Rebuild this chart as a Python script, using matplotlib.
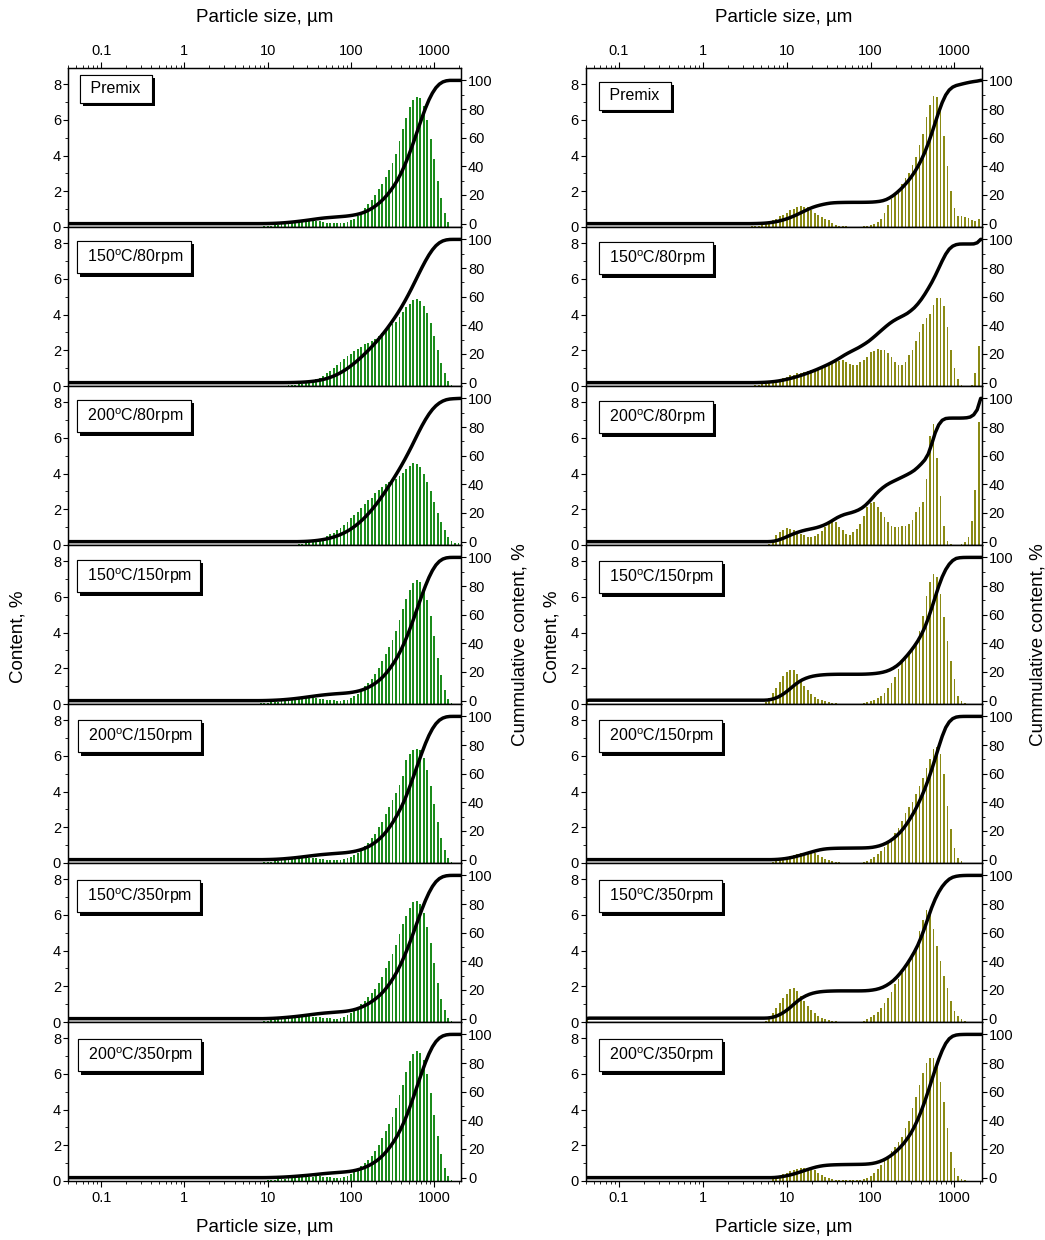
import numpy as np
import matplotlib.pyplot as plt
from matplotlib import patheffects
from matplotlib.ticker import FixedLocator, FixedFormatter, LogLocator, NullFormatter, MultipleLocator

plt.rcParams['font.family'] = ['Liberation Sans', 'DejaVu Sans']
plt.rcParams['mathtext.fontset'] = 'custom'
plt.rcParams['mathtext.rm'] = 'Liberation Sans'

# size classes: channel k has centre 100 um * 10**(k/24), k = -81 .. 31
k_first, k_last = -81, 31

sample_labels = ['Premix',
                 '150$^{\\mathregular{o}}$C/80rpm',
                 '200$^{\\mathregular{o}}$C/80rpm',
                 '150$^{\\mathregular{o}}$C/150rpm',
                 '200$^{\\mathregular{o}}$C/150rpm',
                 '150$^{\\mathregular{o}}$C/350rpm',
                 '200$^{\\mathregular{o}}$C/350rpm']

# left column (green), content % per channel, first channel index in left_start
left_premix = [0.02, 0.03, 0.05, 0.08, 0.1, 0.13, 0.17, 0.2, 0.22, 0.25, 0.28, 0.3, 0.32, 0.33, 0.35, 0.35,
               0.35, 0.32, 0.28, 0.22, 0.2, 0.2, 0.2, 0.2, 0.22, 0.3, 0.37, 0.47, 0.6, 0.8, 1.04, 1.27, 1.5,
               1.8, 2.1, 2.4, 2.8, 3.2, 3.6, 4.1, 4.8, 5.5, 6.1, 6.7, 7.1, 7.3, 7.2, 6.8, 6.0, 4.9, 3.8, 2.6,
               1.6, 0.8, 0.3]
left_150_80 = [0.02, 0.03, 0.05, 0.07, 0.09, 0.13, 0.17, 0.22, 0.28, 0.37, 0.47, 0.58, 0.7, 0.84, 1.0, 1.15,
               1.32, 1.5, 1.66, 1.8, 1.95, 2.07, 2.2, 2.33, 2.4, 2.5, 2.65, 2.8, 2.96, 3.1, 3.3, 3.45, 3.6,
               3.85, 4.15, 4.4, 4.6, 4.8, 4.85, 4.75, 4.5, 4.1, 3.5, 2.8, 2.0, 1.3, 0.7, 0.3, 0.05]
left_200_80 = [0.05, 0.07, 0.11, 0.15, 0.2, 0.26, 0.33, 0.4, 0.48, 0.6, 0.69, 0.82, 0.97, 1.1, 1.28, 1.5,
               1.68, 1.86, 2.05, 2.3, 2.5, 2.65, 2.9, 3.07, 3.25, 3.4, 3.5, 3.6, 3.7, 3.85, 4.05, 4.25, 4.4,
               4.6, 4.55, 4.35, 4.0, 3.55, 3.0, 2.4, 1.8, 1.3, 0.85, 0.45, 0.2, 0.12, 0.1]
left_150_150 = [0.03, 0.05, 0.07, 0.09, 0.11, 0.13, 0.17, 0.2, 0.22, 0.25, 0.28, 0.3, 0.32, 0.33, 0.33, 0.33,
                0.32, 0.3, 0.27, 0.25, 0.22, 0.2, 0.17, 0.17, 0.2, 0.25, 0.35, 0.45, 0.58, 0.77, 1.0, 1.2,
                1.4, 1.7, 2.0, 2.4, 2.8, 3.2, 3.6, 4.1, 4.7, 5.3, 5.9, 6.4, 6.8, 6.95, 6.85, 6.5, 5.8, 4.9,
                3.8, 2.6, 1.6, 0.8, 0.3, 0.05]
left_200_150 = [0.04, 0.05, 0.07, 0.09, 0.13, 0.15, 0.19, 0.2, 0.22, 0.24, 0.26, 0.28, 0.28, 0.28, 0.28, 0.26,
                0.24, 0.2, 0.19, 0.19, 0.17, 0.17, 0.17, 0.2, 0.28, 0.35, 0.45, 0.58, 0.73, 0.95, 1.14, 1.42,
                1.65, 2.0, 2.3, 2.72, 3.15, 3.55, 3.9, 4.35, 4.85, 5.75, 6.1, 6.3, 6.4, 6.3, 5.9, 5.2, 4.3,
                3.3, 2.3, 1.4, 0.75, 0.3, 0.04]
left_150_350 = [0.05, 0.07, 0.09, 0.13, 0.15, 0.19, 0.2, 0.22, 0.24, 0.26, 0.28, 0.3, 0.32, 0.32, 0.3, 0.3,
                0.26, 0.24, 0.2, 0.2, 0.19, 0.19, 0.2, 0.26, 0.37, 0.48, 0.65, 0.84, 1.02, 1.2, 1.42, 1.62,
                1.86, 2.18, 2.53, 3.0, 3.4, 3.8, 4.3, 4.9, 5.5, 5.95, 6.4, 6.7, 6.75, 6.6, 6.1, 5.3, 4.4,
                3.3, 2.2, 1.3, 0.65, 0.25, 0.04]
left_200_350 = [0.02, 0.04, 0.06, 0.07, 0.09, 0.11, 0.13, 0.15, 0.17, 0.19, 0.2, 0.2, 0.22, 0.24, 0.24, 0.26,
                0.26, 0.24, 0.22, 0.2, 0.19, 0.19, 0.19, 0.22, 0.28, 0.37, 0.52, 0.65, 0.84, 1.0, 1.2, 1.42,
                1.68, 2.0, 2.4, 2.8, 3.2, 3.6, 4.1, 4.8, 5.4, 6.1, 6.7, 7.1, 7.25, 7.15, 6.75, 6.0, 4.95,
                3.7, 2.5, 1.5, 0.75, 0.3, 0.04]
left_start = [-26, -19, -15, -26, -25, -25, -25]

# right column (olive)
right_premix = [0.04, 0.05, 0.07, 0.13, 0.19, 0.28, 0.37, 0.47, 0.6, 0.69, 0.8, 0.94, 1.03, 1.12, 1.16, 1.14,
                1.12, 0.97, 0.79, 0.66, 0.56, 0.47, 0.37, 0.22, 0.13, 0.07, 0.05, 0.03, 0.02, 0.01, 0.0,
                0.01, 0.03, 0.05, 0.09, 0.19, 0.28, 0.47, 0.8, 1.22, 1.54, 1.91, 2.15, 2.43, 2.72, 3.03,
                3.46, 3.93, 4.6, 5.2, 6.18, 6.83, 7.35, 7.26, 6.5, 5.1, 3.4, 2.0, 1.08, 0.62, 0.6, 0.56,
                0.5, 0.41, 0.34, 0.47]
right_150_80 = [0.04, 0.06, 0.09, 0.13, 0.19, 0.24, 0.32, 0.4, 0.47, 0.53, 0.6, 0.64, 0.7, 0.75, 0.79, 0.85,
                0.89, 0.94, 1.0, 1.04, 1.07, 1.15, 1.22, 1.32, 1.41, 1.45, 1.32, 1.22, 1.19, 1.19, 1.37,
                1.45, 1.6, 1.88, 1.98, 2.07, 2.03, 2.0, 1.85, 1.6, 1.36, 1.19, 1.19, 1.32, 1.73, 2.0, 2.54,
                3.0, 3.45, 3.82, 4.05, 4.52, 4.9, 4.95, 4.46, 3.33, 2.0, 1.0, 0.38, 0.05, 0.0, 0.0, 0.06,
                0.75, 2.25]
right_200_80 = [0.08, 0.26, 0.56, 0.73, 0.85, 0.94, 0.92, 0.85, 0.73, 0.64, 0.55, 0.45, 0.45, 0.5, 0.64,
                0.79, 0.98, 1.17, 1.32, 1.26, 1.02, 0.83, 0.6, 0.56, 0.7, 0.88, 1.2, 1.64, 2.1, 2.33, 2.4,
                2.1, 1.83, 1.54, 1.26, 1.07, 1.02, 1.02, 1.04, 1.07, 1.17, 1.39, 1.83, 2.1, 2.39, 3.67,
                6.1, 6.8, 4.85, 2.75, 1.07, 0.23, 0.04, 0.0, 0.0, 0.05, 0.15, 0.45, 1.35, 3.1, 6.9]
right_150_150 = [0.11, 0.36, 0.64, 0.92, 1.24, 1.57, 1.8, 1.91, 1.91, 1.67, 1.35, 1.01, 0.79, 0.58, 0.41,
                 0.3, 0.21, 0.15, 0.09, 0.06, 0.04, 0.02, 0.0, 0.0, 0.0, 0.0, 0.0, 0.02, 0.06, 0.11, 0.15,
                 0.22, 0.32, 0.45, 0.64, 0.88, 1.2, 1.52, 1.95, 2.42, 2.6, 2.85, 3.11, 3.45, 4.1, 4.9, 6.03,
                 6.82, 7.28, 7.1, 6.16, 4.85, 3.54, 2.42, 1.39, 0.45, 0.17, 0.04, 0.02]
right_200_150 = [0.06, 0.11, 0.17, 0.24, 0.32, 0.39, 0.47, 0.52, 0.56, 0.58, 0.58, 0.58, 0.54, 0.47, 0.36,
                 0.24, 0.15, 0.09, 0.06, 0.04, 0.02, 0.02, 0.02, 0.02, 0.02, 0.02, 0.06, 0.11, 0.21, 0.36,
                 0.49, 0.67, 0.9, 1.14, 1.42, 1.7, 1.98, 2.36, 2.79, 3.11, 3.43, 3.86, 4.33, 4.74, 5.3,
                 5.82, 6.39, 6.48, 6.1, 4.98, 3.2, 1.89, 0.86, 0.3, 0.09, 0.02]
right_150_350 = [0.07, 0.26, 0.51, 0.79, 1.07, 1.35, 1.57, 1.82, 1.89, 1.72, 1.44, 1.16, 0.92, 0.67, 0.49,
                 0.34, 0.22, 0.15, 0.09, 0.06, 0.04, 0.02, 0.0, 0.0, 0.0, 0.0, 0.0, 0.02, 0.07, 0.15, 0.26,
                 0.37, 0.56, 0.79, 1.07, 1.35, 1.67, 2.1, 2.43, 2.75, 3.03, 3.37, 3.69, 4.16, 5.09, 5.69,
                 6.25, 6.03, 5.18, 4.25, 3.41, 2.57, 1.91, 1.16, 0.6, 0.32, 0.15, 0.06, 0.02]
right_200_350 = [0.09, 0.2, 0.3, 0.39, 0.47, 0.54, 0.64, 0.69, 0.73, 0.73, 0.71, 0.66, 0.6, 0.47, 0.36, 0.24,
                 0.17, 0.11, 0.07, 0.06, 0.04, 0.03, 0.03, 0.03, 0.03, 0.04, 0.09, 0.17, 0.28, 0.45, 0.66,
                 0.88, 1.12, 1.39, 1.67, 1.91, 2.19, 2.47, 2.94, 3.35, 4.06, 4.72, 5.37, 6.03, 6.59, 6.87,
                 6.87, 6.4, 5.56, 4.44, 2.94, 1.63, 0.73, 0.28, 0.09, 0.04]
right_start = [-34, -33, -29, -30, -28, -30, -28]
# lone bar in the first (0.04 um) channel
right_first_channel = [0.0, 0.0, 0.0, 0.3, 0.0, 0.3, 0.0]

left_data = [left_premix, left_150_80, left_200_80, left_150_150, left_200_150, left_150_350, left_200_350]
right_data = [right_premix, right_150_80, right_200_80, right_150_150, right_200_150, right_150_350,
              right_200_350]

kk = np.arange(k_first, k_last + 1)
size = 100.0 * 10 ** (kk / 24.0)
half = 10 ** (0.27 / 24.0)          # bar half width (log)
edge = 10 ** (0.5 / 24.0)           # channel upper edge


def channels(start, vals, first=0.0):
    arr = np.zeros(len(kk))
    i = start - k_first
    arr[i:i + len(vals)] = vals
    arr[0] += first
    return arr


W, H = 1045, 1240
fig = plt.figure(figsize=(W / 100, H / 100), dpi=100)
top_px, row_h = 68, 159
columns = [
    dict(x0=68, w=393, color='#1b8c1b', data=left_data, start=left_start,
         first=[0.0] * 7, box_dx=[12, 9, 9, 9, 10, 9, 10], box_dy=[7, 14, 14, 15, 16, 17, 17]),
    dict(x0=585.5, w=396, color='#8a8a14', data=right_data, start=right_start,
         first=right_first_channel, box_dx=[13.5] * 7, box_dy=[14, 15, 15, 16, 16, 17, 17]),
]

for col in columns:
    for r in range(7):
        y_top = top_px + r * row_h
        ax = fig.add_axes([col['x0'] / W, 1 - (y_top + row_h) / H, col['w'] / W, row_h / H])
        v = channels(col['start'][r], col['data'][r], col['first'][r])
        ax.bar(size / half, v, width=size * half - size / half, align='edge',
               color=col['color'], linewidth=0)
        ax.set_xscale('log')
        ax.set_xlim(0.04, 2100)
        ax.set_ylim(0, 8.9)
        ax.yaxis.set_major_locator(MultipleLocator(2))
        ax.yaxis.set_minor_locator(MultipleLocator(1))
        ax.xaxis.set_major_locator(FixedLocator([0.1, 1, 10, 100, 1000]))
        ax.xaxis.set_major_formatter(FixedFormatter(['0.1', '1', '10', '100', '1000']))
        ax.xaxis.set_minor_locator(LogLocator(base=10, subs=np.arange(2, 10), numticks=30))
        ax.xaxis.set_minor_formatter(NullFormatter())
        ax.tick_params(axis='x', which='both', direction='out', bottom=(r == 6), top=(r == 0),
                       labelbottom=(r == 6), labeltop=(r == 0), labelsize=10.5, pad=3.5)
        ax.tick_params(axis='x', which='major', length=4, width=0.8)
        ax.tick_params(axis='x', which='minor', length=2.5, width=0.6)
        ax.tick_params(axis='y', which='major', direction='out', length=3.5, width=0.8, pad=1.5,
                       labelsize=10.5)
        ax.tick_params(axis='y', which='minor', direction='out', length=2, width=0.6)
        for s in ax.spines.values():
            s.set_linewidth(0.9)

        ax2 = ax.twinx()
        cum = np.cumsum(v) / v.sum() * 100
        ax2.plot(np.r_[0.04, size * edge, 2100], np.r_[0, cum, 100], color='black', lw=2.5,
                 solid_joinstyle='round')
        ax2.set_ylim(-2.35, 108.65)
        ax2.yaxis.set_major_locator(MultipleLocator(20))
        ax2.yaxis.set_minor_locator(MultipleLocator(10))
        ax2.tick_params(axis='y', which='major', direction='out', length=3.5, width=0.8, pad=1.5,
                        labelsize=10.5)
        ax2.tick_params(axis='y', which='minor', direction='out', length=2, width=0.6)
        for s in ax2.spines.values():
            s.set_linewidth(0.9)

        dx = (col['box_dx'][r] + 6.4) * 0.72
        dy = (col['box_dy'][r] + 6.4) * 0.72
        t = ax2.annotate(' ' + sample_labels[r] + ' ', xy=(0, 1), xycoords='axes fraction',
                         xytext=(dx, -dy), textcoords='offset points', ha='left', va='top',
                         fontsize=11.5, zorder=5,
                         bbox=dict(boxstyle='square,pad=0.4', facecolor='white', edgecolor='black',
                                   linewidth=0.8))
        t.get_bbox_patch().set_path_effects([
            patheffects.withSimplePatchShadow(offset=(2.3, -2.3), shadow_rgbFace='black', alpha=1.0),
            patheffects.Normal()])

lab = dict(fontsize=13.5, ha='center', va='center')
for xc in (264.5, 783.5):
    fig.text(xc / W, 1 - 17 / H, 'Particle size, µm', **lab)
    fig.text(xc / W, 1 - 1228 / H, 'Particle size, µm', **lab)
fig.text(18 / W, 1 - 637 / H, 'Content, %', rotation=90, **lab)
fig.text(552 / W, 1 - 637 / H, 'Content, %', rotation=90, **lab)
fig.text(520 / W, 1 - 645 / H, 'Cummulative content, %', rotation=90, **lab)
fig.text(1038 / W, 1 - 645 / H, 'Cummulative content, %', rotation=90, **lab)

fig.savefig('out.png', dpi=100, facecolor='white')
